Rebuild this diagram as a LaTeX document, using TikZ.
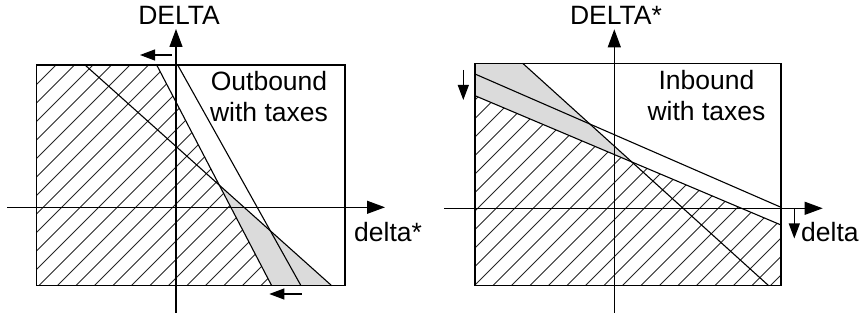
\documentclass[tikz,border=0pt]{standalone}
\usepackage{fontspec}
\setmainfont{Liberation Sans}
\usetikzlibrary{arrows.meta}
\begin{document}
\begin{tikzpicture}[x=1pt,y=-1pt,
  boxline/.style={line width=1.2pt},
  axisline/.style={line width=1.1pt,-{Triangle[length=18pt,width=13pt]}},
  shiftarrow/.style={line width=1.1pt,-{Triangle[length=15pt,width=11pt]}},
  curve/.style={line width=1.1pt},
  hatchline/.style={line width=1pt,black!85},
  shade/.style={fill=black!14},
  lbl/.style={inner sep=0pt,font=\fontsize{26.5}{31}\selectfont},
  txt/.style={inner sep=0pt,align=center,font=\fontsize{26.5}{31}\selectfont}]
\useasboundingbox (0,0) rectangle (862,320);

% ================= LEFT PANEL =================
\coordinate (L1) at (36.7,65);
\coordinate (L2) at (345,65);
\coordinate (L3) at (345,285.7);
\coordinate (L4) at (36.7,285.7);
\coordinate (Atop) at (85,65);
\coordinate (Abot) at (331.7,285.7);
\coordinate (Btop) at (156.7,65);
\coordinate (Bbot) at (271.7,285.7);
\coordinate (Ctop) at (177.7,65);
\coordinate (Cbot) at (301,285.7);
\coordinate (ABx) at (219.3,185.1);
% hatched region
\begin{scope}
  \clip (L1) -- (Btop) -- (Bbot) -- (L4) -- cycle;
  \foreach \c in {10,28.5,...,700} \draw[hatchline] (\c,0) -- (\c-400,400);
\end{scope}
% gray region
\fill[shade] (ABx) -- (Bbot) -- (Abot) -- cycle;
% box
\draw[boxline] (L1) -- (L2) -- (L3) -- (L4) -- cycle;
% lines
\draw[curve] (Atop) -- (Abot);
\draw[curve] (Btop) -- (Bbot);
\draw[curve] (Ctop) -- (Cbot);
% axes
\coordinate (LxS) at (7,207.3);
\coordinate (LxE) at (385,207.3);
\coordinate (LyS) at (176,313);
\coordinate (LyE) at (176,29);
\draw[axisline] (LxS) -- (LxE);
\draw[axisline] (LyS) -- (LyE);
% shift arrows
\coordinate (la1) at (171.7,55);
\coordinate (la2) at (140,55);
\coordinate (lb1) at (301.7,294);
\coordinate (lb2) at (269.3,294);
\draw[shiftarrow] (la1) -- (la2);
\draw[shiftarrow] (lb1) -- (lb2);
% labels
\node[lbl] (Ly) at (179,15) {DELTA};
\node[lbl,anchor=west] (Lx) at (354,232) {delta*};
\node[txt] (Lt) at (269,97) {Outbound\\with taxes};

% ================= RIGHT PANEL =================
\coordinate (R1) at (475,63.3);
\coordinate (R2) at (781,63.3);
\coordinate (R3) at (781,285.7);
\coordinate (R4) at (475,285.7);
\coordinate (Ptop) at (522.7,63.3);
\coordinate (Pbot) at (768.7,285.7);
\coordinate (Qleft) at (475,74);
\coordinate (Qright) at (781,207.3);
\coordinate (Rleft) at (475,95.7);
\coordinate (Rright) at (781,225);
\coordinate (PRx) at (631.9,162);
% hatched region
\begin{scope}
  \clip (Rleft) -- (Rright) -- (R3) -- (R4) -- cycle;
  \foreach \c in {1.5,20,...,1300} \draw[hatchline] (\c,0) -- (\c-400,400);
\end{scope}
% gray region
\fill[shade] (R1) -- (Ptop) -- (PRx) -- (Rleft) -- cycle;
% box
\draw[boxline] (R1) -- (R2) -- (R3) -- (R4) -- cycle;
% lines
\draw[curve] (Ptop) -- (Pbot);
\draw[curve] (Qleft) -- (Qright);
\draw[curve] (Rleft) -- (Rright);
% axes
\coordinate (RxS) at (444.3,208.3);
\coordinate (RxE) at (822.7,208.3);
\coordinate (RyS) at (614.3,313);
\coordinate (RyE) at (614.3,29.3);
\draw[axisline] (RxS) -- (RxE);
\draw[axisline] (RyS) -- (RyE);
% shift arrows
\coordinate (ra1) at (463.3,70);
\coordinate (ra2) at (463.3,100);
\coordinate (rb1) at (794.3,208.3);
\coordinate (rb2) at (794.3,238.5);
\draw[shiftarrow] (ra1) -- (ra2);
\draw[shiftarrow] (rb1) -- (rb2);
% labels
\node[lbl] (Ry) at (616,15) {DELTA*};
\node[lbl,anchor=west] (Rx) at (801,232) {delta};
\node[txt] (Rt) at (706.5,96) {Inbound\\with taxes};
\end{tikzpicture}
\end{document}
